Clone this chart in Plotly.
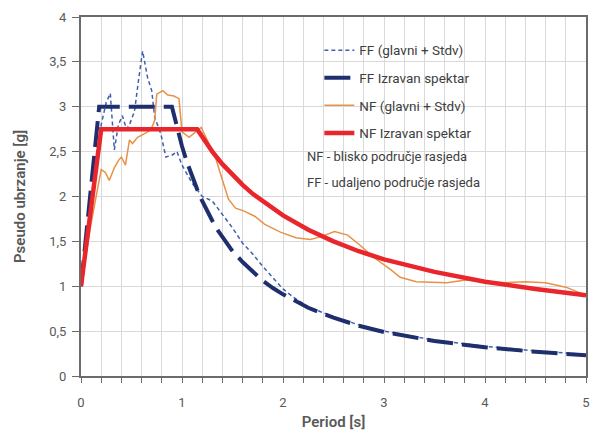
import plotly.graph_objects as go

# Period axis values [s] and pseudo-acceleration [g] for each spectrum
t_ff_mean = [0, 0.05, 0.1, 0.15, 0.2, 0.25, 0.29, 0.33, 0.37, 0.41, 0.45, 0.48, 0.53, 0.57,
             0.61, 0.66, 0.7, 0.73, 0.79, 0.84, 0.9, 0.95, 1.0, 1.1, 1.2, 1.3, 1.4, 1.5, 1.6,
             1.7, 1.8, 1.9, 2.0, 2.1, 2.25, 2.5, 2.75, 3.0, 3.5, 4.0, 4.5, 5.0]
sa_ff_mean = [1.0, 1.45, 1.95, 2.45, 2.8, 3.05, 3.15, 2.52, 2.8, 2.9, 2.75, 2.8, 2.95, 3.3,
              3.62, 3.32, 3.18, 2.88, 2.7, 2.44, 2.46, 2.5, 2.35, 2.15, 2.0, 1.95, 1.8, 1.65,
              1.48, 1.36, 1.22, 1.09, 0.97, 0.88, 0.77, 0.66, 0.57, 0.5, 0.4, 0.33, 0.28, 0.24]

t_ff_design = [0, 0.18, 0.9, 0.95, 1.0, 1.05, 1.1, 1.15, 1.2, 1.25, 1.3, 1.35, 1.4, 1.45, 1.5,
               1.6, 1.7, 1.8, 1.9, 2.0, 2.25, 2.5, 2.75, 3.0, 3.5, 4.0, 4.5, 5.0]
sa_ff_design = [1.0, 3.0, 3.0, 2.77, 2.56, 2.38, 2.22, 2.08, 1.95, 1.83, 1.73, 1.63, 1.55, 1.47,
                1.39, 1.27, 1.16, 1.06, 0.98, 0.91, 0.76, 0.65, 0.56, 0.49, 0.39, 0.32, 0.27, 0.23]

t_nf_mean = [0, 0.1, 0.2, 0.24, 0.28, 0.33, 0.37, 0.4, 0.44, 0.48, 0.51, 0.56, 0.63, 0.69, 0.73,
             0.75, 0.81, 0.86, 0.92, 0.97, 1.0, 1.07, 1.19, 1.33, 1.39, 1.46, 1.53, 1.61, 1.72,
             1.82, 1.98, 2.13, 2.27, 2.37, 2.51, 2.64, 2.76, 2.9, 3.06, 3.16, 3.32, 3.49, 3.62,
             3.81, 4.0, 4.2, 4.4, 4.6, 4.8, 5.0]
sa_nf_mean = [1.0, 1.7, 2.3, 2.27, 2.18, 2.32, 2.4, 2.44, 2.35, 2.63, 2.59, 2.66, 2.7, 2.74, 2.85,
              3.14, 3.18, 3.13, 3.12, 3.09, 2.72, 2.66, 2.77, 2.44, 2.22, 1.97, 1.87, 1.84, 1.78,
              1.69, 1.6, 1.54, 1.52, 1.55, 1.61, 1.57, 1.46, 1.32, 1.19, 1.1, 1.05, 1.04, 1.04,
              1.07, 1.05, 1.04, 1.05, 1.04, 0.99, 0.9]

t_nf_design = [0, 0.2, 1.15, 1.2, 1.3, 1.4, 1.5, 1.6, 1.7, 1.8, 2.0, 2.25, 2.5, 2.75, 3.0, 3.5,
               4.0, 4.5, 5.0]
sa_nf_design = [1.0, 2.75, 2.75, 2.66, 2.5, 2.36, 2.24, 2.13, 2.03, 1.95, 1.79, 1.63, 1.5, 1.39,
                1.3, 1.16, 1.05, 0.97, 0.9]

names = ["FF (glavni + Stdv)", "FF Izravan spektar", "NF (glavni + Stdv)", "NF Izravan spektar"]
notes = ["NF - blisko područje rasjeda", "FF - udaljeno područje rasjeda"]

y_tick_vals = [0, 0.5, 1, 1.5, 2, 2.5, 3, 3.5, 4]
y_tick_text = ["0", "0,5", "1", "1,5", "2", "2,5", "3", "3,5", "4"]
x_tick_vals = [0, 1, 2, 3, 4, 5]
x_tick_text = ["0", "1", "2", "3", "4", "5"]

FONT = "Roboto"
GREY = "#595959"
TEXT = "#404040"

fig = go.Figure()
fig.add_trace(go.Scatter(x=t_ff_mean, y=sa_ff_mean, mode="lines", name=names[0], legendgroup="a",
                         line=dict(color="#3f5fb0", width=1.5, dash="4px,3px")))
fig.add_trace(go.Scatter(x=t_ff_design, y=sa_ff_design, mode="lines", name=names[1], legendgroup="b",
                         line=dict(color="#1f2f6e", width=4, dash="26px,9px")))
fig.add_trace(go.Scatter(x=t_nf_mean, y=sa_nf_mean, mode="lines", name=names[2], legendgroup="c",
                         line=dict(color="#e99147", width=1.5)))
fig.add_trace(go.Scatter(x=t_nf_design, y=sa_nf_design, mode="lines", name=names[3], legendgroup="d",
                         line=dict(color="#e8262b", width=4.5)))

# white panel behind the legend block
fig.add_shape(type="rect", xref="paper", yref="paper", x0=0.436, x1=0.839, y0=0.506, y1=0.956,
              fillcolor="white", line=dict(width=0), layer="between")

for i, txt in enumerate(notes):
    fig.add_annotation(text=txt, xref="paper", yref="paper", x=0.444, y=0.611 - i * 0.072,
                       xanchor="left", yanchor="middle", showarrow=False,
                       font=dict(family=FONT, size=13, color=TEXT))

fig.update_layout(
    width=598, height=436,
    margin=dict(l=81, r=8, t=17, b=59),
    paper_bgcolor="white", plot_bgcolor="white",
    font=dict(family=FONT, size=13, color=GREY),
    showlegend=True,
    legend=dict(x=0.472, y=0.95, xanchor="left", yanchor="top", bgcolor="rgba(0,0,0,0)",
                traceorder="grouped", tracegroupgap=7,
                font=dict(family=FONT, size=13.5, color=TEXT)),
)

fig.update_xaxes(
    range=[0, 5], tickmode="array", tickvals=x_tick_vals, ticktext=x_tick_text,
    showline=True, linecolor="#6b6b6b", linewidth=2, mirror=True,
    showgrid=True, gridcolor="#d9d9d9", gridwidth=1,
    ticks="outside", ticklen=5, tickcolor="#6b6b6b", ticklabelstandoff=8,
    minor=dict(dtick=0.2, showgrid=True, gridcolor="#d9d9d9", gridwidth=1,
               ticks="outside", ticklen=5, tickcolor="#6b6b6b"),
    zeroline=False,
    tickfont=dict(family=FONT, size=13, color=GREY),
    title=dict(text="Period [s]", font=dict(family=FONT, size=15, color=GREY, weight=600),
               standoff=8),
)
fig.update_yaxes(
    range=[0, 4], tickmode="array", tickvals=y_tick_vals, ticktext=y_tick_text,
    showline=True, linecolor="#6b6b6b", linewidth=2, mirror=True,
    showgrid=True, gridcolor="#d9d9d9", gridwidth=1,
    ticks="outside", ticklen=7, tickcolor="#6b6b6b", ticklabelstandoff=3,
    zeroline=False,
    tickfont=dict(family=FONT, size=13, color=GREY),
    title=dict(text="Pseudo ubrzanje [g]", font=dict(family=FONT, size=15, color=GREY, weight=600),
               standoff=20),
)

fig.write_html("out.html")
